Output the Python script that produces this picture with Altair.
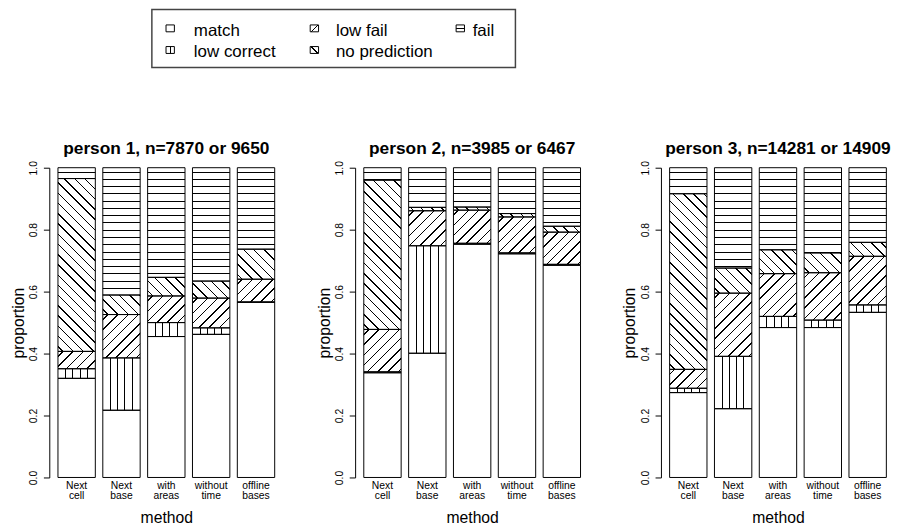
import altair as alt
import pandas as pd

# ---------------- data ----------------
methods = ["Next cell", "Next base", "with areas", "without time", "offline bases"]
categories = ["match", "low correct", "low fail", "no prediction", "fail"]
panel_titles = [
    "person 1, n=7870 or 9650",
    "person 2, n=3985 or 6467",
    "person 3, n=14281 or 14909",
]

# proportions per method (order of `methods`)
p1_match = [0.320, 0.217, 0.455, 0.462, 0.566]
p1_low_correct = [0.031, 0.169, 0.045, 0.021, 0.000]
p1_low_fail = [0.056, 0.140, 0.086, 0.096, 0.074]
p1_no_prediction = [0.558, 0.063, 0.060, 0.055, 0.097]
p1_fail = [0.035, 0.411, 0.354, 0.366, 0.263]

p2_match = [0.338, 0.401, 0.753, 0.722, 0.685]
p2_low_correct = [0.003, 0.347, 0.003, 0.003, 0.003]
p2_low_fail = [0.137, 0.113, 0.107, 0.116, 0.104]
p2_no_prediction = [0.482, 0.011, 0.010, 0.011, 0.019]
p2_fail = [0.040, 0.128, 0.127, 0.148, 0.189]

p3_match = [0.274, 0.222, 0.484, 0.484, 0.533]
p3_low_correct = [0.014, 0.169, 0.036, 0.024, 0.024]
p3_low_fail = [0.061, 0.204, 0.138, 0.153, 0.157]
p3_no_prediction = [0.567, 0.081, 0.077, 0.064, 0.045]
p3_fail = [0.084, 0.324, 0.265, 0.275, 0.241]

persons = [
    [p1_match, p1_low_correct, p1_low_fail, p1_no_prediction, p1_fail],
    [p2_match, p2_low_correct, p2_low_fail, p2_no_prediction, p2_fail],
    [p3_match, p3_low_correct, p3_low_fail, p3_no_prediction, p3_fail],
]

# ---------------- style / layout ----------------
FONT = "Liberation Sans"
PW, PH = 238, 315
P_IN, P_OUT = 1 / 6, 0.193
STEP = PW / (len(methods) - P_IN + 2 * P_OUT)
BW = STEP * (1 - P_IN)
HATCH = {"match": None, "low correct": "v", "low fail": "/",
         "no prediction": "\\", "fail": "h"}
SPACE_HV = 7.4      # spacing of horizontal / vertical hatch lines (px)
SPACE_DIAG = 10.4   # horizontal spacing of diagonal hatch lines (px)


def make_stops(centers, half, total):
    st = [{"offset": 0, "color": "white"}]
    last = 0.0
    for c in centers:
        a = max(last, (c - half) / total)
        b = min(1.0, (c + half) / total)
        if b <= a:
            continue
        st += [{"offset": a, "color": "white"}, {"offset": a, "color": "black"},
               {"offset": b, "color": "black"}, {"offset": b, "color": "white"}]
        last = b
    st.append({"offset": 1, "color": "white"})
    return st


def hatch_fill(kind, W, H, centers=None):
    if kind == "h":
        total = H
        if centers is None:
            centers, c = [], 4.4
            while c < H - 0.6:
                centers.append(c)
                c += SPACE_HV
        return {"gradient": "linear", "x1": 0, "y1": 0, "x2": 0, "y2": 1,
                "stops": make_stops(centers, 0.5, total)}
    if kind == "v":
        total = W
        if centers is None:
            centers, c = [], 7.7
            while c < W - 1.2:
                centers.append(c)
                c += SPACE_HV
        return {"gradient": "linear", "x1": 0, "y1": 0, "x2": 1, "y2": 0,
                "stops": make_stops(centers, 0.5, total)}
    total = W + H
    k = (W + H) / (W * W + H * H)
    if centers is None:
        centers, c = [], SPACE_DIAG / 2
        while c < total:
            centers.append(c)
            c += SPACE_DIAG
    if kind == "/":
        return {"gradient": "linear", "x1": 0, "y1": 0, "x2": k * W, "y2": k * H,
                "stops": make_stops(centers, 0.75, total)}
    return {"gradient": "linear", "x1": 0, "y1": 1, "x2": k * W, "y2": 1 - k * H,
            "stops": make_stops(centers, 0.75, total)}


def panel(vals, title):
    rows = []
    for j, m in enumerate(methods):
        lo = 0.0
        for k, cat in enumerate(categories):
            v = vals[k][j]
            rows.append({"method": m, "category": cat, "y0": lo, "y1": lo + v, "prop": v})
            lo += v
    df = pd.DataFrame(rows)
    base = alt.Chart(df).encode(
        x=alt.X("method:N", sort=methods,
                scale=alt.Scale(domain=methods, paddingInner=P_IN, paddingOuter=P_OUT),
                axis=alt.Axis(domain=False, ticks=False, labelAngle=0,
                              labelExpr="split(datum.label, ' ')",
                              labelFont=FONT, labelFontSize=10.5, labelLineHeight=10.8,
                              labelPadding=3, labelBaseline="top", labelColor="black",
                              labelOverlap=False,
                              title="method", titleFont=FONT, titleFontSize=16,
                              titleFontWeight="normal", titleColor="black",
                              titlePadding=8)),
        y=alt.Y("y0:Q", scale=alt.Scale(domain=[0, 1], nice=False),
                axis=alt.Axis(values=[0, 0.2, 0.4, 0.6, 0.8, 1.0], format=".1f",
                              grid=False, labelAngle=-90, labelAlign="center",
                              labelBaseline="alphabetic", labelPadding=7,
                              labelFont=FONT, labelFontSize=10.5, labelColor="black",
                              labelOverlap=False,
                              tickSize=6, tickColor="black", domainColor="black",
                              title="proportion", titleFont=FONT, titleFontSize=16,
                              titleFontWeight="normal", titleColor="black",
                              titlePadding=2.4)),
        y2="y1:Q",
    )
    layers = [base.mark_bar(fill="white")]
    for r in rows:
        kind = HATCH[r["category"]]
        h = r["prop"] * PH
        if kind is None or h < 1.5:
            continue
        g = hatch_fill(kind, BW, h)
        flt = f"datum.method == '{r['method']}' && datum.category == '{r['category']}'"
        layers.append(base.mark_bar(fill=g).transform_filter(flt))
    layers.append(base.mark_bar(fillOpacity=0, stroke="black", strokeWidth=1))
    return alt.layer(*layers).properties(
        width=PW, height=PH,
        title=alt.TitleParams(text=title, font=FONT, fontSize=17.6, fontWeight="bold",
                              color="black", anchor="middle", baseline="alphabetic",
                              frame="group", offset=-10.5),
    )


# ---------------- legend (x relative to the panels' plot origin) ----------------
LEG_X0, LEG_X1, LEG_H = 104.3, 474, 59
SYM_W, SYM_H = 8.5, 7
leg_cols_sym = [118.7, 265.3, 413.7]
leg_cols_txt = [147, 291.5, 430.5]
leg_rows_cy = [19.3, 41.3]
leg_rows_base = [27, 48.6]

one = alt.Data(values=[{"k": 1}])
leg_layers = [
    alt.Chart(one).mark_rect(fill="white", stroke="#444", strokeWidth=1.5).encode(
        x=alt.value(LEG_X0), x2=alt.value(LEG_X1), y=alt.value(0), y2=alt.value(LEG_H))
]
for i, cat in enumerate(categories):
    col, row = i // 2, i % 2
    sx, cy = leg_cols_sym[col], leg_rows_cy[row]
    kind = HATCH[cat]
    if kind is None:
        fill = "white"
    elif kind == "h":
        fill = hatch_fill("h", SYM_W, SYM_H, [SYM_H / 2])
    elif kind == "v":
        fill = hatch_fill("v", SYM_W, SYM_H, [SYM_W / 2])
    else:
        fill = hatch_fill(kind, SYM_W, SYM_H, [(SYM_W + SYM_H) / 2])
    leg_layers.append(
        alt.Chart(one).mark_rect(fill=fill, stroke="black", strokeWidth=1).encode(
            x=alt.value(sx), x2=alt.value(sx + SYM_W),
            y=alt.value(cy - SYM_H / 2), y2=alt.value(cy + SYM_H / 2)))
    leg_layers.append(
        alt.Chart(one).mark_text(text=cat, align="left", baseline="alphabetic",
                                 font=FONT, fontSize=17.2, color="black").encode(
            x=alt.value(leg_cols_txt[col]), y=alt.value(leg_rows_base[row])))
legend = alt.layer(*leg_layers).properties(width=LEG_X1 + 4, height=LEG_H)

panels = alt.hconcat(*[panel(v, t) for v, t in zip(persons, panel_titles)], spacing=33)

chart = (
    alt.vconcat(legend, panels, spacing=72)
    .properties(padding={"left": 2, "top": -4, "right": 0, "bottom": 0})
    .configure(font=FONT)
    .configure_view(strokeWidth=0, stroke="transparent")
)

chart.save("out.html", embed_options={"renderer": "svg", "actions": False})
